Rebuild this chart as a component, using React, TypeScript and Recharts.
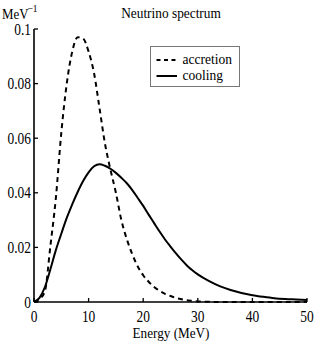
import React from 'react';
import { LineChart, Line, XAxis, YAxis, Legend } from 'recharts';

const energies = [0, 1, 2, 3, 4, 5, 6, 7, 8, 9, 10, 11, 12, 13, 14, 15, 16, 17, 18, 19, 20, 21, 22, 23, 24, 25, 26, 27, 28, 29, 30, 32, 34, 36, 38, 40, 42, 44, 46, 48, 50];
const accretion = [0, 0.001, 0.004, 0.0205, 0.038, 0.062, 0.080, 0.0917, 0.097, 0.0965, 0.0917, 0.0838, 0.071, 0.058, 0.0485, 0.040, 0.030, 0.023, 0.0175, 0.013, 0.0098, 0.0074, 0.0055, 0.0041, 0.003, 0.0022, 0.0015, 0.001, 0.0006, 0.0004, 0.0002, 0.0001, 0, 0, 0, 0, 0, 0, 0, 0, 0];
const cooling = [0, 0.0015, 0.0055, 0.012, 0.019, 0.025, 0.0308, 0.0358, 0.0403, 0.0443, 0.0475, 0.0497, 0.0505, 0.0499, 0.0488, 0.0473, 0.0455, 0.0435, 0.041, 0.0381, 0.0352, 0.032, 0.0289, 0.0258, 0.0229, 0.0203, 0.0178, 0.0155, 0.0134, 0.0116, 0.0101, 0.0077, 0.0058, 0.0044, 0.0033, 0.0025, 0.0019, 0.0014, 0.0011, 0.0009, 0.0007];

const xTicks = [0, 10, 20, 30, 40, 50];
const xTickLabels = ['0', '10', '20', '30', '40', '50'];
const yTicks = [0, 0.02, 0.04, 0.06, 0.08, 0.1];
const yTickLabels = ['0', '0.02', '0.04', '0.06', '0.08', '0.1'];

const seriesNames = ['accretion', 'cooling'];
const title = 'Neutrino spectrum';
const xLabel = 'Energy (MeV)';

const data = energies.map((e, i) => ({ e, accretion: accretion[i], cooling: cooling[i] }));

const FONT = '"Liberation Serif", "Times New Roman", serif';

const YTick = (props: any) => {
  const { x, y, payload } = props;
  const idx = yTicks.findIndex((t) => Math.abs(t - payload.value) < 1e-9);
  const label = idx >= 0 ? yTickLabels[idx] : String(payload.value);
  return (
    <g>
      <line x1={x} y1={y} x2={x + 4} y2={y} stroke="#000" strokeWidth={1.3} />
      <text
        transform={`translate(${x - 3},${y + 5.5}) scale(0.84,1)`}
        textAnchor="end"
        fontSize={16}
        fontFamily={FONT}
        fill="#000"
      >
        {label}
      </text>
    </g>
  );
};

const XTick = (props: any) => {
  const { x, y, payload } = props;
  const idx = xTicks.findIndex((t) => t === payload.value);
  const label = idx >= 0 ? xTickLabels[idx] : String(payload.value);
  return (
    <g>
      <line x1={x} y1={y} x2={x} y2={y - 4} stroke="#000" strokeWidth={1.3} />
      <text
        transform={`translate(${x},${y + 19.5}) scale(0.84,1)`}
        textAnchor="middle"
        fontSize={16}
        fontFamily={FONT}
        fill="#000"
      >
        {label}
      </text>
    </g>
  );
};

const LegendBox = () => (
  <svg width={91} height={42} style={{ display: 'block' }}>
    <rect x={0.5} y={0.5} width={89} height={40} fill="#fff" stroke="#777" strokeWidth={1} />
    <line x1={6.5} y1={14} x2={28} y2={14} stroke="#000" strokeWidth={2} strokeDasharray="4 3.5" />
    <line x1={6.5} y1={30} x2={27} y2={30} stroke="#000" strokeWidth={2} />
    <text transform="translate(32.5,18) scale(0.9,1)" fontSize={15} fontFamily={FONT} fill="#000">
      {seriesNames[0]}
    </text>
    <text transform="translate(32.5,34) scale(0.9,1)" fontSize={15} fontFamily={FONT} fill="#000">
      {seriesNames[1]}
    </text>
  </svg>
);

export default function App() {
  return (
    <div style={{ position: 'absolute', left: 0, top: 0, width: 316, height: 341, background: '#fff' }}>
      <LineChart
        width={316}
        height={341}
        data={data}
        margin={{ top: 29, right: 9, bottom: 0, left: 0 }}
      >
        <XAxis
          dataKey="e"
          type="number"
          domain={[0, 50]}
          ticks={xTicks}
          height={39}
          tickSize={0}
          tickMargin={0}
          tickLine={false}
          tick={<XTick />}
          axisLine={{ stroke: '#000', strokeWidth: 1.6 }}
          interval={0}
        />
        <YAxis
          type="number"
          domain={[0, 0.1]}
          ticks={yTicks}
          width={34}
          tickSize={0}
          tickMargin={0}
          tickLine={false}
          tick={<YTick />}
          axisLine={{ stroke: '#000', strokeWidth: 1.6 }}
          interval={0}
        />
        <Legend
          layout="horizontal"
          verticalAlign="middle"
          align="center"
          content={() => <LegendBox />}
          wrapperStyle={{ position: 'absolute', left: 150, top: 46, width: 91, height: 42 }}
        />
        <Line
          type="monotone"
          dataKey="accretion"
          stroke="#000"
          strokeWidth={2}
          strokeDasharray="5 4"
          dot={false}
          isAnimationActive={false}
        />
        <Line
          type="monotone"
          dataKey="cooling"
          stroke="#000"
          strokeWidth={2}
          dot={false}
          isAnimationActive={false}
        />
      </LineChart>
      <svg
        width={316}
        height={341}
        style={{ position: 'absolute', left: 0, top: 0, pointerEvents: 'none' }}
      >
        <text transform="translate(171,18) scale(0.89,1)" textAnchor="middle" fontSize={15} fontFamily={FONT} fill="#000">
          {title}
        </text>
        <text transform="translate(2,18.5) scale(0.86,1)" fontSize={15} fontFamily={FONT} fill="#000">
          MeV
        </text>
        <text transform="translate(27.5,12) scale(0.86,1)" fontSize={11} fontFamily={FONT} fill="#000">
          −1
        </text>
        <text transform="translate(171,338) scale(0.88,1)" textAnchor="middle" fontSize={15} fontFamily={FONT} fill="#000">
          {xLabel}
        </text>
      </svg>
    </div>
  );
}
